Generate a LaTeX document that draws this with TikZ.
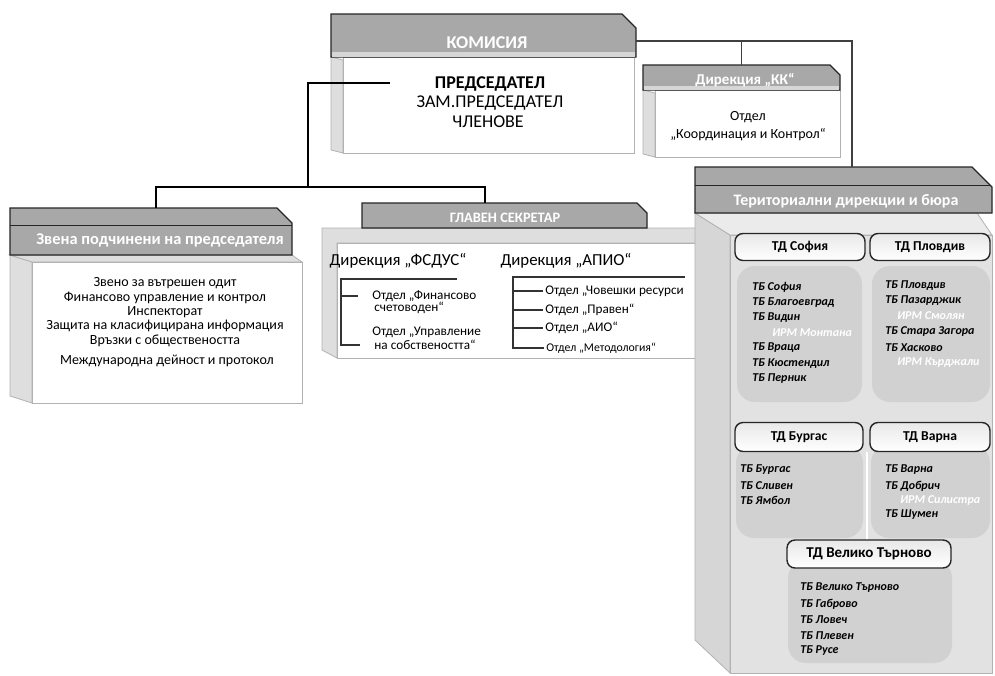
\documentclass[tikz,border=0pt]{standalone}
\usepackage{fontspec}
\setmainfont{Carlito}
\usetikzlibrary{fit,calc}
\newcommand\fsz[1]{\fontsize{#1}{#1}\selectfont}
\newcommand\regbox[5]{\path (#2,#3) coordinate (#1-nw) (#4,#5) coordinate (#1-se);
  \node[inner sep=0pt, fit=(#1-nw)(#1-se)] (#1) {};}
\tikzset{
  hdr/.style={fill=gray!68, draw=black!85, line width=0.6pt},
  hdrband/.style={fill=gray!32},
  side/.style={fill=gray!26, draw=gray!60, line width=0.4pt},
  face/.style={fill=white, draw=gray!60, line width=0.4pt},
  terrface/.style={fill=gray!23, draw=gray!60, line width=0.4pt},
  tdhead/.style={rounded corners=4pt, top color=gray!18, bottom color=white, draw=black!85, line width=0.7pt},
  tdbody/.style={rounded corners=9pt, fill=gray!36},
  conn/.style={draw=black, line width=1.4pt},
  thin conn/.style={draw=black!75, line width=0.9pt},
  tick/.style={draw=black!80, line width=0.6pt},
  htxt/.style={inner sep=0pt, text=white, font=\bfseries\fsz{8}},
  btxt/.style={inner sep=0pt, font=\fsz{7}},
  itm/.style={inner sep=0pt, anchor=west, font=\bfseries\itshape\fsz{6}},
  irm/.style={inner sep=0pt, anchor=west, text=white, font=\bfseries\itshape\fsz{6}},
  otd/.style={inner sep=0pt, anchor=west, font=\fsz{6.6}},
}
\begin{document}
\begin{tikzpicture}[x=0.5pt,y=-0.5pt]
\useasboundingbox (0,0) rectangle (995,675);
\fill[white] (0,0) rectangle (995,675);

% ---------- KOMISIA ----------
\draw[side] (331,57) -- (343,60) -- (343,153) -- (331,150) -- cycle;
\draw[face] (343,57) rectangle (634,153);
\draw[hdr] (331,14) -- (622,14) -- (636,28) -- (636,57) -- (331,57) -- cycle;
\fill[hdrband] (332,52) rectangle (635,56.5);
\regbox{kom}{331}{14}{636}{153}
\node[htxt, font=\bfseries\fsz{9}] (komt) at (487,43) {КОМИСИЯ};
\node[btxt, font=\bfseries\fsz{9}] (pr1) at (490,84) {ПРЕДСЕДАТЕЛ};
\node[btxt, font=\fsz{9}] (pr2) at (490,103) {ЗАМ.ПРЕДСЕДАТЕЛ};
\node[btxt, font=\fsz{9}] (pr3) at (488,122) {ЧЛЕНОВЕ};

% ---------- Direkcia KK ----------
\draw[side] (643,90) -- (655,93) -- (655,157) -- (643,154) -- cycle;
\draw[face] (655,90) rectangle (840,157);
\draw[hdr] (643,65) -- (830,65) -- (840,75) -- (840,90) -- (643,90) -- cycle;
\fill[hdrband] (644,86) rectangle (839,89.5);
\regbox{kk}{643}{65}{840}{157}
\node[htxt, font=\bfseries\fsz{7.5}] (kkt) at (745,80) {Дирекция „КК“};
\node[btxt] (kk1) at (748,117) {Отдел};
\node[btxt] (kk2) at (748,135) {„Координация и Контрол“};

% ---------- Zvena ----------
\draw[side] (10,255) -- (32,262) -- (32,403) -- (10,396) -- cycle;
\draw[side] (10,255) -- (292,255) -- (302,262) -- (32,262) -- cycle;
\draw[face] (32,262) rectangle (302,403);
\draw[hdr] (10,208) -- (277,208) -- (292,223) -- (292,255) -- (10,255) -- cycle;
\draw[black!85, line width=0.5pt] (10,225) -- (292,225);
\regbox{zv}{10}{208}{302}{403}
\node[htxt, font=\bfseries\fsz{8.2}] (zvt) at (160,240) {Звена подчинени на председателя};
\node[btxt] (zv1) at (165,283) {Звено за вътрешен  одит};
\node[btxt] (zv2) at (165,298) {Финансово управление и контрол};
\node[btxt] (zv3) at (165,312) {Инспекторат};
\node[btxt] (zv4) at (165,326) {Защита на класифицирана информация};
\node[btxt] (zv5) at (165,341) {Връзки с обществеността};
\node[btxt] (zv6) at (167,361) {Международна дейност и протокол};

% ---------- Glaven sekretar ----------
\draw[side] (322,228) -- (697,228) -- (697,243) -- (337,243) -- (337,358) -- (322,350) -- cycle;
\draw[face] (337,243) rectangle (697,358);
\draw[hdr] (362,203) -- (637,203) -- (647,213) -- (647,228) -- (362,228) -- cycle;
\regbox{gs}{322}{203}{697}{358}
\node[htxt, font=\bfseries\fsz{7.2}] (gst) at (505,218) {ГЛАВЕН СЕКРЕТАР};
\node[btxt, font=\fsz{8.4}] (fs) at (398,261) {Дирекция „ФСДУС“};
\node[btxt, font=\fsz{8.4}] (ap) at (566,261) {Дирекция „АПИО“};
\node[otd] (fs1a) at (372,296) {Отдел „Финансово};
\node[otd] (fs1b) at (374,308) {счетоводен“};
\node[otd] (fs2a) at (372,332) {Отдел „Управление};
\node[otd] (fs2b) at (374,345) {на собствеността“};
\node[otd] (ap1) at (545,291) {Отдел „Човешки ресурси};
\node[otd] (ap2) at (545,310) {Отдел „Правен“};
\node[otd] (ap3) at (545,328) {Отдел „АИО“};
\node[otd, font=\fsz{5.9}] (ap4) at (546,348) {Отдел „Методология“};
\coordinate (fsroot) at (341,279);
\coordinate (fsend) at (457,279);
\coordinate (aproot) at (513,277);
\coordinate (apend) at (685,277);
\draw[tick] (fsend) -- (fsroot) |- ([xshift=-7pt]fs2b.west);
\draw[tick] (fsroot |- fs1a) -- ([xshift=-7pt]fs1a.west);
\draw[tick] (apend) -- (aproot) |- ([xshift=-1pt]ap4.west);
\draw[tick] (aproot |- ap1) -- ([xshift=-1pt]ap1.west);
\draw[tick] (aproot |- ap2) -- ([xshift=-1pt]ap2.west);
\draw[tick] (aproot |- ap3) -- ([xshift=-1pt]ap3.west);

% ---------- Territorial ----------
\draw[side, fill=gray!32] (695,213) -- (730,235) -- (730,673) -- (695,640) -- cycle;
\draw[side, fill=gray!16] (695,213) -- (977,213) -- (992,235) -- (730,235) -- cycle;
\draw[terrface] (730,235) rectangle (992,673);
\draw[hdr] (695,167) -- (972,167) -- (992,187) -- (992,213) -- (695,213) -- cycle;
\draw[black!85, line width=0.5pt] (695,185) -- (990,185);
\regbox{terr}{695}{167}{992}{673}
\node[htxt, font=\bfseries\fsz{8}] (terrt) at (846,201) {Териториални дирекции и бюра};

% TD bodies
\fill[tdbody] (737,266) rectangle (862,402);
\fill[tdbody] (872,266) rectangle (990,402);
\fill[tdbody] (736,445) rectangle (863,538);
\fill[tdbody] (871,445) rectangle (990,538);
\fill[tdbody] (788,560) rectangle (952,663);
\draw[white, line width=1pt] (867,452) -- (867,540);
% TD heads
\node[tdhead, minimum width=65pt, minimum height=13.5pt, inner sep=0pt, font=\bfseries\fsz{6.8}] (tdsof) at (800,247) {ТД София};
\node[tdhead, minimum width=60pt, minimum height=13.5pt, inner sep=0pt, font=\bfseries\fsz{6.8}] (tdplv) at (930,247) {ТД Пловдив};
\node[tdhead, minimum width=64pt, minimum height=14.5pt, inner sep=0pt, font=\bfseries\fsz{6.8}] (tdbur) at (799,437) {ТД Бургас};
\node[tdhead, minimum width=60pt, minimum height=14.5pt, inner sep=0pt, font=\bfseries\fsz{6.8}] (tdvar) at (930,437) {ТД Варна};
\node[tdhead, minimum width=82pt, minimum height=14pt, inner sep=0pt, font=\bfseries\fsz{7.5}] (tdvt) at (869,554) {ТД Велико Търново};

% items Sofia
\node[itm] (s1) at (752,287) {ТБ София};
\node[itm] (s2) at (752,303) {ТБ Благоевград};
\node[itm] (s3) at (752,318) {ТБ Видин};
\node[irm] (s4) at (772,333) {ИРМ Монтана};
\node[itm] (s5) at (752,348) {ТБ Враца};
\node[itm] (s6) at (752,364) {ТБ Кюстендил};
\node[itm] (s7) at (752,379) {ТБ Перник};
% items Plovdiv
\node[itm] (p1) at (885,286) {ТБ Пловдив};
\node[itm] (p2) at (885,301) {ТБ Пазарджик};
\node[irm] (p3) at (897,316) {ИРМ Смолян};
\node[itm] (p4) at (885,332) {ТБ Стара Загора};
\node[itm] (p5) at (885,348) {ТБ Хасково};
\node[irm] (p6) at (897,363) {ИРМ Кърджали};
% items Burgas
\node[itm] (b1) at (740,470) {ТБ Бургас};
\node[itm] (b2) at (740,486) {ТБ Сливен};
\node[itm] (b3) at (740,500) {ТБ Ямбол};
% items Varna
\node[itm] (v1) at (885,470) {ТБ Варна};
\node[itm] (v2) at (885,486) {ТБ Добрич};
\node[irm] (v3) at (900,500) {ИРМ Силистра};
\node[itm] (v4) at (885,515) {ТБ Шумен};
% items VT
\node[itm] (t1) at (800,588) {ТБ Велико Търново};
\node[itm] (t2) at (800,604) {ТБ Габрово};
\node[itm] (t3) at (800,620) {ТБ Ловеч};
\node[itm] (t4) at (800,636) {ТБ Плевен};
\node[itm] (t5) at (800,651) {ТБ Русе};

% ---------- connectors ----------
\coordinate (pred) at (390,83);
\coordinate (lbend) at (308,187);
\coordinate (gsin) at (485,203);
\draw[conn] (pred) -| (lbend);
\draw[conn] (zv.north) |- (lbend) -| (gsin);
\coordinate (kr) at (636,41);
\coordinate (terrin) at (852,167);
\draw[thin conn] (kr) -| (terrin);
\draw[thin conn] (kk.north) -- (kk.north |- kr);
\end{tikzpicture}
\end{document}
